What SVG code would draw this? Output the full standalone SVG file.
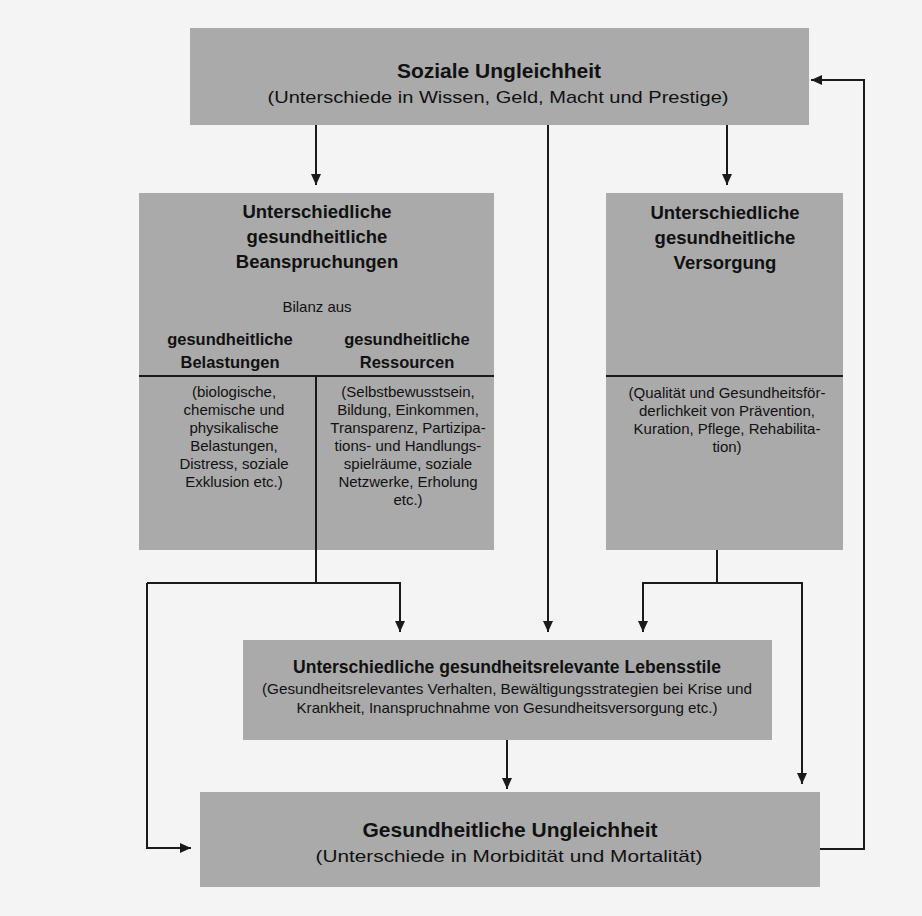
<svg xmlns="http://www.w3.org/2000/svg" width="922" height="916" viewBox="0 0 922 916">
<defs>
<marker id="ah" markerUnits="userSpaceOnUse" markerWidth="12" markerHeight="10" refX="11" refY="5" orient="auto">
<path d="M0,0 L11,5 L0,10 z" fill="#1a1a1a"/>
</marker>
<style>
.box{fill:#aaaaaa}
.ln{stroke:#1a1a1a;stroke-width:2;fill:none}
.arr{stroke:#1a1a1a;stroke-width:2;fill:none;marker-end:url(#ah)}
text{font-family:"Liberation Sans",Arial,sans-serif;fill:#111;text-anchor:middle}
.t1{font-size:21px;font-weight:bold}
.s1{font-size:17px}
.h{font-size:18.5px;font-weight:bold}
.h2{font-size:16.5px;font-weight:bold}
.b{font-size:15px}
</style>
</defs>
<rect x="0" y="0" width="922" height="916" fill="#f4f4f4"/>

<g id="soziale-ungleichheit">
<rect class="box" x="190" y="28" width="619" height="97"/>
<text class="t1" x="499" y="78">Soziale Ungleichheit</text>
<text class="s1" x="498" y="103" textLength="461" lengthAdjust="spacingAndGlyphs">(Unterschiede in Wissen, Geld, Macht und Prestige)</text>
</g>

<g id="beanspruchungen">
<rect class="box" x="139" y="193" width="355" height="357"/>
<text class="h" x="317" y="218">Unterschiedliche</text>
<text class="h" x="317" y="243">gesundheitliche</text>
<text class="h" x="317" y="268">Beanspruchungen</text>
<text class="b" x="317" y="312">Bilanz aus</text>
<text class="h2" x="230" y="345">gesundheitliche</text>
<text class="h2" x="230" y="368">Belastungen</text>
<text class="h2" x="407" y="345">gesundheitliche</text>
<text class="h2" x="407" y="368">Ressourcen</text>
<line class="ln" x1="139" y1="376" x2="494" y2="376"/>
<line class="ln" x1="316" y1="376" x2="316" y2="550"/>
<text class="b" x="234" y="397">(biologische,</text>
<text class="b" x="234" y="415">chemische und</text>
<text class="b" x="234" y="433">physikalische</text>
<text class="b" x="234" y="451">Belastungen,</text>
<text class="b" x="234" y="469">Distress, soziale</text>
<text class="b" x="234" y="487">Exklusion etc.)</text>
<text class="b" x="408" y="397">(Selbstbewusstsein,</text>
<text class="b" x="408" y="415">Bildung, Einkommen,</text>
<text class="b" x="408" y="433">Transparenz, Partizipa-</text>
<text class="b" x="408" y="451">tions- und Handlungs-</text>
<text class="b" x="408" y="469">spielräume, soziale</text>
<text class="b" x="408" y="487">Netzwerke, Erholung</text>
<text class="b" x="408" y="505">etc.)</text>
</g>

<g id="versorgung">
<rect class="box" x="606" y="193" width="237" height="357"/>
<text class="h" x="725" y="219">Unterschiedliche</text>
<text class="h" x="725" y="244">gesundheitliche</text>
<text class="h" x="725" y="269">Versorgung</text>
<line class="ln" x1="606" y1="376" x2="843" y2="376"/>
<text class="b" x="727" y="398">(Qualität und Gesundheitsför-</text>
<text class="b" x="727" y="416">derlichkeit von Prävention,</text>
<text class="b" x="727" y="434">Kuration, Pflege, Rehabilita-</text>
<text class="b" x="727" y="452">tion)</text>
</g>

<g id="lebensstile">
<rect class="box" x="243" y="640" width="529" height="100"/>
<text class="h" x="507" y="673" textLength="428" lengthAdjust="spacingAndGlyphs">Unterschiedliche gesundheitsrelevante Lebensstile</text>
<text class="b" x="507" y="694" textLength="490" lengthAdjust="spacingAndGlyphs">(Gesundheitsrelevantes Verhalten, Bewältigungsstrategien bei Krise und</text>
<text class="b" x="507" y="713" textLength="421" lengthAdjust="spacingAndGlyphs">Krankheit, Inanspruchnahme von Gesundheitsversorgung etc.)</text>
</g>

<g id="gesundheitliche-ungleichheit">
<rect class="box" x="200" y="792" width="620" height="95"/>
<text class="t1" x="510" y="837" textLength="295" lengthAdjust="spacingAndGlyphs">Gesundheitliche Ungleichheit</text>
<text class="s1" x="509" y="862" textLength="387" lengthAdjust="spacingAndGlyphs">(Unterschiede in Morbidität und Mortalität)</text>
</g>

<g id="connectors">
<line class="arr" x1="316" y1="125" x2="316" y2="185"/>
<line class="arr" x1="548" y1="125" x2="548" y2="632"/>
<line class="arr" x1="727" y1="125" x2="727" y2="185"/>
<line class="ln" x1="316" y1="550" x2="316" y2="583"/>
<polyline class="ln" points="147,583 400,583"/>
<polyline class="arr" points="400,582 400,632"/>
<polyline class="arr" points="147,583 147,848 191,848"/>
<line class="ln" x1="717" y1="550" x2="717" y2="583"/>
<polyline class="ln" points="643,583 802,583"/>
<polyline class="arr" points="643,582 643,632"/>
<polyline class="arr" points="802,582 802,784"/>
<line class="arr" x1="507" y1="740" x2="507" y2="789"/>
<polyline class="arr" points="820,849 864,849 864,80 811,80"/>
</g>
</svg>
